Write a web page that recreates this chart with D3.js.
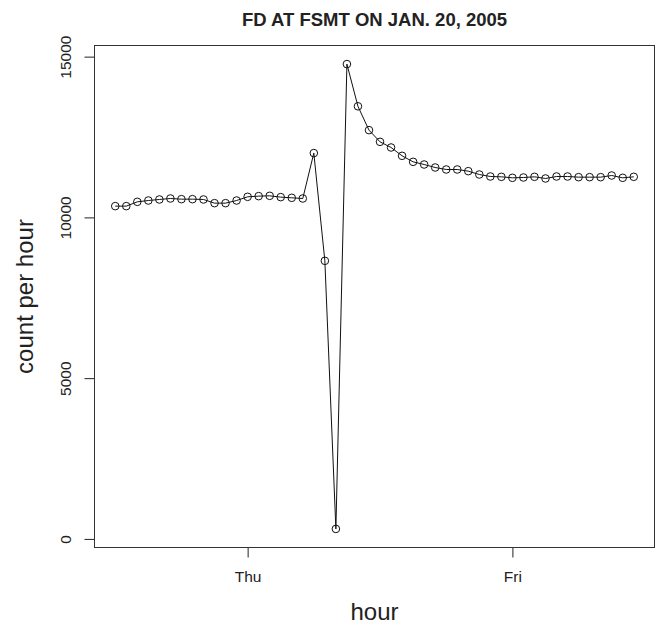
<!DOCTYPE html>
<html>
<head>
<meta charset="utf-8">
<script src="https://cdn.jsdelivr.net/npm/d3@7"></script>
<style>
  body { margin: 0; background: #fff; }
  svg { font-family: "Liberation Sans", Arial, Helvetica, sans-serif; }
</style>
</head>
<body>
<div id="chart-area"></div>
<script>
// hourly counts, Wed Jan 19 2005 12:00 through Fri Jan 21 2005 11:00
const startHour = new Date(2005, 0, 19, 12);
const counts = [
  10350, 10350, 10484, 10525, 10557, 10588, 10567, 10567, 10557, 10443,
  10443, 10525, 10640, 10661, 10671, 10630, 10609, 10588, 12000, 8649,
  311, 14768, 13455, 12714, 12350, 12174, 11915, 11728, 11645, 11552,
  11490, 11490, 11438, 11334, 11272, 11262, 11231, 11241, 11262, 11210,
  11272, 11272, 11251, 11251, 11251, 11303, 11231, 11262
];
const yTicks = [0, 5000, 10000, 15000];
const dayTicks = [new Date(2005, 0, 20), new Date(2005, 0, 21)];

const title = "FD AT FSMT ON JAN. 20, 2005";
const xLabel = "hour";
const yLabel = "count per hour";

const data = counts.map((c, i) => ({ t: d3.timeHour.offset(startHour, i), v: c }));

const width = 660, height = 625;
const margin = { top: 45.5, right: 5.5, bottom: 77.5, left: 94.5 };
const innerW = width - margin.left - margin.right;
const innerH = height - margin.top - margin.bottom;

const svg = d3.select("#chart-area").append("svg")
    .attr("width", width)
    .attr("height", height);

const g = svg.append("g")
    .attr("transform", `translate(${margin.left},${margin.top})`);

// R style: extend the data range by 4% on each side
const pad = (ext) => { const d = (ext[1] - ext[0]) * 0.04; return [ext[0] - d, ext[1] + d]; };

const tExt = d3.extent(data, d => +d.t);
const x = d3.scaleTime()
    .domain(pad(tExt).map(ms => new Date(ms)))
    .range([0, innerW]);

const y = d3.scaleLinear()
    .domain(pad(d3.extent(data, d => d.v)))
    .range([innerH, 0]);

// y axis
const yAxis = g.append("g")
    .call(d3.axisLeft(y).tickValues(yTicks).tickSize(10).tickSizeOuter(0).tickFormat(d3.format("d")));
yAxis.select(".domain").remove();
yAxis.selectAll("line").attr("stroke", "#222");
yAxis.selectAll("text")
    .attr("transform", "rotate(-90)")
    .attr("x", 0)
    .attr("y", -24)
    .attr("dy", 0)
    .attr("text-anchor", "middle")
    .attr("fill", "#222")
    .style("font-size", "15.5px");

// x axis
const xAxis = g.append("g")
    .attr("transform", `translate(0,${innerH})`)
    .call(d3.axisBottom(x).tickValues(dayTicks).tickSize(10).tickSizeOuter(0).tickFormat(d3.timeFormat("%a")));
xAxis.select(".domain").remove();
xAxis.selectAll("line").attr("stroke", "#222");
xAxis.selectAll("text")
    .attr("y", 34.4)
    .attr("dy", 0)
    .attr("fill", "#222")
    .style("font-size", "15.5px");

// box
g.append("rect")
    .attr("width", innerW)
    .attr("height", innerH)
    .attr("fill", "none")
    .attr("stroke", "#333")
    .attr("stroke-width", 1);

// line then open circles (type = "o")
const line = d3.line()
    .x(d => x(d.t))
    .y(d => y(d.v));

g.append("path")
    .datum(data)
    .attr("d", line)
    .attr("fill", "none")
    .attr("stroke", "#111")
    .attr("stroke-width", 1);

g.selectAll("circle")
    .data(data)
  .enter().append("circle")
    .attr("cx", d => x(d.t))
    .attr("cy", d => y(d.v))
    .attr("r", 3.8)
    .attr("fill", "none")
    .attr("stroke", "#111")
    .attr("stroke-width", 1);

// titles
svg.append("text")
    .attr("x", margin.left + innerW / 2)
    .attr("y", 25.7)
    .attr("text-anchor", "middle")
    .attr("font-weight", "bold")
    .style("font-size", "18.5px")
    .attr("fill", "#222")
    .text(title);

svg.append("text")
    .attr("x", margin.left + innerW / 2)
    .attr("y", 620)
    .attr("text-anchor", "middle")
    .style("font-size", "24px")
    .attr("fill", "#222")
    .text(xLabel);

svg.append("text")
    .attr("transform", `translate(33,${margin.top + innerH / 2}) rotate(-90)`)
    .attr("text-anchor", "middle")
    .style("font-size", "24px")
    .attr("fill", "#222")
    .text(yLabel);
</script>
</body>
</html>
